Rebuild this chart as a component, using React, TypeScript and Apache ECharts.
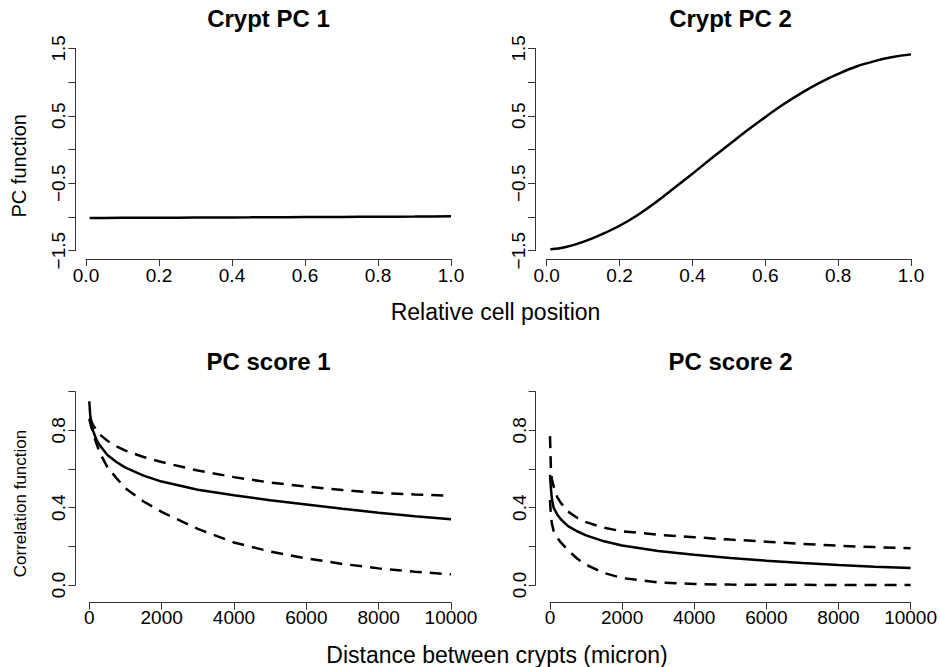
import React, { useEffect, useRef } from 'react';
import * as echarts from 'echarts';

// ---- data ----
const cellPosition = [0.01, 0.05, 0.1, 0.15, 0.2, 0.25, 0.3, 0.35, 0.4, 0.45, 0.5, 0.55, 0.6, 0.65, 0.7, 0.75, 0.8, 0.85, 0.9, 0.95, 1.0];
const cryptPC1 = [-1.015, -1.014, -1.013, -1.012, -1.011, -1.01, -1.009, -1.008, -1.007, -1.006, -1.004, -1.003, -1.002, -1.001, -1.0, -0.998, -0.997, -0.995, -0.994, -0.992, -0.99];
const cryptPC2 = [-1.48, -1.45, -1.37, -1.26, -1.13, -0.97, -0.78, -0.57, -0.36, -0.14, 0.07, 0.28, 0.48, 0.67, 0.84, 0.99, 1.12, 1.23, 1.31, 1.37, 1.41];

const distance = [0, 25, 50, 100, 200, 300, 500, 750, 1000, 1500, 2000, 3000, 4000, 5000, 6000, 7000, 8000, 9000, 10000];
const score1Fit = [0.95, 0.88, 0.85, 0.8, 0.75, 0.72, 0.672, 0.636, 0.607, 0.566, 0.535, 0.493, 0.464, 0.439, 0.417, 0.395, 0.374, 0.356, 0.34];
const score1Upper = [0.86, 0.86, 0.85, 0.83, 0.8, 0.777, 0.746, 0.717, 0.695, 0.662, 0.636, 0.592, 0.558, 0.53, 0.509, 0.491, 0.477, 0.468, 0.462];
const score1Lower = [0.86, 0.84, 0.82, 0.79, 0.73, 0.68, 0.61, 0.553, 0.5, 0.432, 0.378, 0.29, 0.22, 0.173, 0.138, 0.109, 0.086, 0.069, 0.055];
const score2Fit = [0.57, 0.5, 0.45, 0.4, 0.365, 0.34, 0.305, 0.278, 0.257, 0.226, 0.204, 0.176, 0.157, 0.14, 0.126, 0.114, 0.103, 0.095, 0.088];
const score2Upper = [0.77, 0.6, 0.55, 0.51, 0.455, 0.425, 0.38, 0.348, 0.325, 0.296, 0.278, 0.26, 0.247, 0.235, 0.224, 0.213, 0.203, 0.196, 0.19];
const score2Lower = [0.44, 0.36, 0.32, 0.28, 0.245, 0.22, 0.18, 0.137, 0.105, 0.062, 0.036, 0.013, 0.005, 0.002, 0.001, 0.001, 0, 0, 0];

const topYLabels = ['1.5', '0.5', '−0.5', '−1.5'];
const bottomYLabels = ['0.0', '0.4', '0.8'];
const titles = ['Crypt PC 1', 'Crypt PC 2', 'PC score 1', 'PC score 2'];
const topXLabel = 'Relative cell position';
const bottomXLabel = 'Distance between crypts (micron)';
const topYName = 'PC function';
const bottomYName = 'Correlation function';

const FONT = 'Liberation Sans, Arial, sans-serif';

const zip = (xs: number[], ys: number[]) => xs.map((x, i) => [x, ys[i]]);
const fmtNum = (v: number) => (v < 0 ? '−' : '') + Math.abs(v).toFixed(1);

export default function App() {
  const ref = useRef<HTMLDivElement>(null);
  useEffect(() => {
    if (!ref.current) return;
    const chart = echarts.init(ref.current, null, { renderer: 'svg' });

    const grids = [
      { left: 86, top: 48.3, width: 365, height: 202.4 },
      { left: 546.7, top: 48.3, width: 364.3, height: 202.4 },
      { left: 89.3, top: 391.7, width: 361.7, height: 193.3 },
      { left: 550, top: 391.7, width: 361, height: 193.3 },
    ];
    const xOffsets = [8.3, 8.3, 17.7, 17.7];
    const yOffsets = [10.7, 11.7, 14, 14.3];

    const axisCommon = {
      axisTick: { show: true, length: 7, inside: false, lineStyle: { color: '#333', width: 1 } },
      splitLine: { show: false },
    };

    const xAxes = grids.map((_, i) => {
      const top = i < 2;
      return {
        type: 'value',
        gridIndex: i,
        position: 'bottom',
        min: 0,
        max: top ? 1 : 10000,
        interval: top ? 0.2 : 2000,
        offset: xOffsets[i],
        axisLine: { show: true, onZero: false, lineStyle: { color: '#333', width: 1 } },
        ...axisCommon,
        axisLabel: {
          color: '#000',
          fontFamily: FONT,
          fontSize: 19,
          margin: top ? 6.5 : 5,
          formatter: (v: number) => (top ? v.toFixed(1) : String(v)),
        },
      };
    });

    const yAxes = grids.map((_, i) => {
      const top = i < 2;
      return {
        type: 'value',
        gridIndex: i,
        position: 'left',
        min: top ? -1.5 : 0,
        max: top ? 1.5 : 1,
        interval: top ? 0.5 : 0.2,
        offset: yOffsets[i],
        axisLine: { show: true, onZero: false, lineStyle: { color: '#333', width: 1 } },
        ...axisCommon,
        axisLabel: {
          color: '#000',
          fontFamily: FONT,
          fontSize: 19,
          rotate: 90,
          margin: 7,
          formatter: (v: number) => {
            const s = fmtNum(v);
            const list = top ? topYLabels : bottomYLabels;
            return list.includes(s) ? s : '';
          },
        },
      };
    });

    const solid = { color: '#000', width: 2.5, type: 'solid' as const };
    const dashed = { color: '#000', width: 2.5, type: [12, 8] as any };
    const mk = (idx: number, xs: number[], ys: number[], style: any, smooth: number | boolean) => ({
      type: 'line',
      xAxisIndex: idx,
      yAxisIndex: idx,
      data: zip(xs, ys),
      symbol: 'none',
      showSymbol: false,
      smooth,
      lineStyle: style,
      silent: true,
      clip: false,
    });

    const series = [
      mk(0, cellPosition, cryptPC1, solid, false),
      mk(1, cellPosition, cryptPC2, solid, 0.4),
      mk(2, distance, score1Upper, dashed, false),
      mk(2, distance, score1Lower, dashed, false),
      mk(2, distance, score1Fit, solid, false),
      mk(3, distance, score2Upper, dashed, false),
      mk(3, distance, score2Lower, dashed, false),
      mk(3, distance, score2Fit, solid, false),
    ];

    const titlePos = [
      [268.5, 18],
      [730.5, 18],
      [268.5, 361.7],
      [730.5, 361.7],
    ];
    const textEl = (text: string, x: number, y: number, size: number, weight: string, rotation = 0) => ({
      type: 'text',
      x,
      y,
      rotation,
      silent: true,
      style: {
        text,
        fill: '#000',
        font: `${weight} ${size}px ${FONT}`,
        textAlign: 'center',
        textVerticalAlign: 'middle',
      },
    });

    const graphic = [
      ...titles.map((t, i) => textEl(t, titlePos[i][0], titlePos[i][1], 24, 'bold')),
      textEl(topXLabel, 495.5, 311.8, 23, 'normal'),
      textEl(bottomXLabel, 497, 654.5, 23, 'normal'),
      textEl(topYName, 19, 165.8, 20, 'normal', Math.PI / 2),
      textEl(bottomYName, 20, 503.5, 17, 'normal', Math.PI / 2),
    ];

    chart.setOption({
      animation: false,
      backgroundColor: '#fff',
      grid: grids.map((g) => ({ ...g, containLabel: false })),
      xAxis: xAxes,
      yAxis: yAxes,
      series,
      graphic,
    } as any);

    return () => chart.dispose();
  }, []);

  return (
    <div
      ref={ref}
      style={{ position: 'absolute', left: 0, top: 0, width: 940, height: 667, background: '#fff' }}
    />
  );
}
